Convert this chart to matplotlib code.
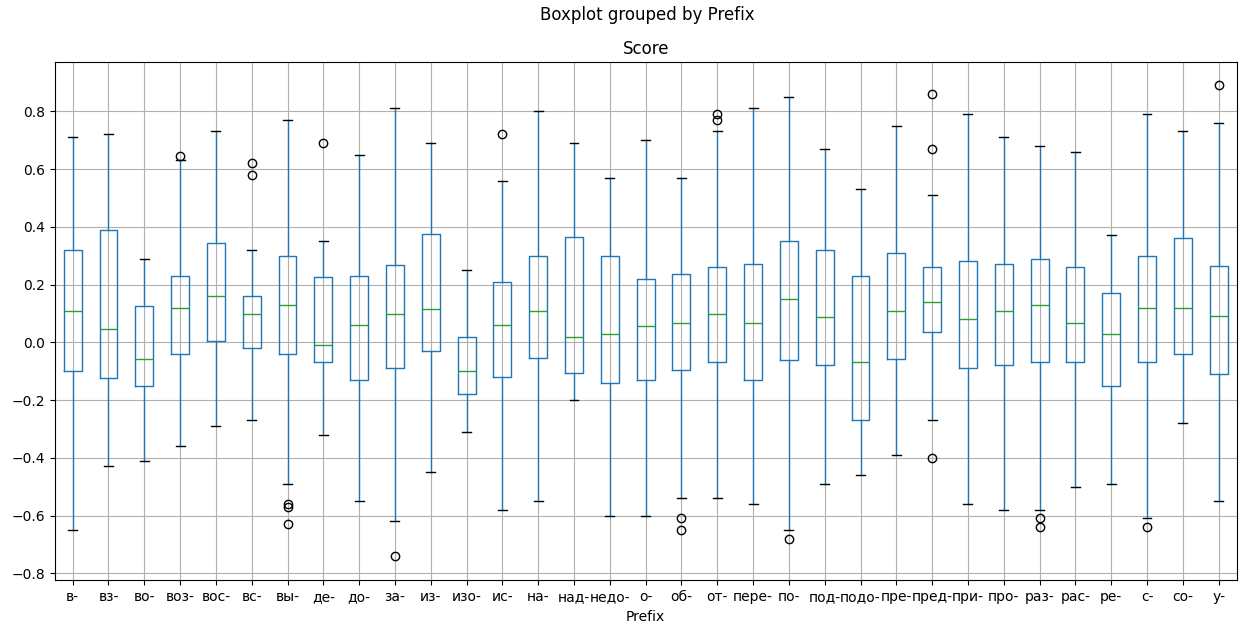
import matplotlib.pyplot as plt

prefixes = ['в-', 'вз-', 'во-', 'воз-', 'вос-', 'вс-', 'вы-', 'де-', 'до-', 'за-',
            'из-', 'изо-', 'ис-', 'на-', 'над-', 'недо-', 'о-', 'об-', 'от-', 'пере-',
            'по-', 'под-', 'подо-', 'пре-', 'пред-', 'при-', 'про-', 'раз-', 'рас-', 'ре-',
            'с-', 'со-', 'у-']
whislo = [-0.65, -0.43, -0.41, -0.36, -0.29, -0.27, -0.49, -0.32, -0.55, -0.62,
          -0.45, -0.31, -0.58, -0.55, -0.20, -0.60, -0.60, -0.54, -0.54, -0.56,
          -0.65, -0.49, -0.46, -0.39, -0.27, -0.56, -0.58, -0.58, -0.50, -0.49,
          -0.61, -0.28, -0.55]
q1 = [-0.10, -0.125, -0.15, -0.04, 0.003, -0.02, -0.04, -0.067, -0.13, -0.09,
      -0.03, -0.18, -0.12, -0.055, -0.105, -0.14, -0.13, -0.095, -0.067, -0.13,
      -0.06, -0.077, -0.27, -0.057, 0.037, -0.09, -0.08, -0.067, -0.067, -0.15,
      -0.067, -0.04, -0.11]
med = [0.11, 0.045, -0.057, 0.12, 0.16, 0.097, 0.13, -0.01, 0.06, 0.097,
       0.115, -0.10, 0.06, 0.11, 0.02, 0.03, 0.055, 0.068, 0.097, 0.068,
       0.15, 0.088, -0.067, 0.11, 0.14, 0.08, 0.11, 0.13, 0.068, 0.03,
       0.12, 0.12, 0.09]
q3 = [0.32, 0.39, 0.125, 0.23, 0.345, 0.16, 0.30, 0.225, 0.23, 0.268,
      0.375, 0.02, 0.21, 0.30, 0.365, 0.30, 0.22, 0.235, 0.26, 0.27,
      0.35, 0.32, 0.23, 0.31, 0.26, 0.28, 0.27, 0.29, 0.26, 0.17,
      0.30, 0.36, 0.265]
whishi = [0.71, 0.72, 0.29, 0.63, 0.73, 0.32, 0.77, 0.35, 0.65, 0.81,
          0.69, 0.25, 0.56, 0.80, 0.69, 0.57, 0.70, 0.57, 0.73, 0.81,
          0.85, 0.67, 0.53, 0.75, 0.51, 0.79, 0.71, 0.68, 0.66, 0.37,
          0.79, 0.73, 0.76]
fliers = [[], [], [], [0.645], [], [0.58, 0.62], [-0.56, -0.57, -0.63], [0.69], [], [-0.74],
          [], [], [0.72], [], [], [], [], [-0.61, -0.65], [0.77, 0.79], [],
          [-0.68], [], [], [], [0.67, 0.86, -0.40], [], [], [-0.61, -0.64], [], [],
          [-0.64], [], [0.89]]

stats = []
for i, p in enumerate(prefixes):
    stats.append({'label': p, 'whislo': whislo[i], 'q1': q1[i], 'med': med[i],
                  'q3': q3[i], 'whishi': whishi[i], 'fliers': fliers[i]})

fig = plt.figure(figsize=(12.44, 6.28), dpi=100)
ax = fig.add_axes([0.044, 0.076, 0.95, 0.825])
ax.bxp(stats,
       boxprops=dict(color='#1f77b4'),
       whiskerprops=dict(color='#1f77b4'),
       medianprops=dict(color='#2ca02c'),
       capprops=dict(color='black'),
       flierprops=dict(marker='o', markerfacecolor='none', markeredgecolor='black'))
ax.grid(True)
ax.set_ylim(-0.824, 0.97)
ax.set_title('Score')
ax.set_xlabel('Prefix')
fig.suptitle('Boxplot grouped by Prefix', x=0.52, y=0.99)

fig.savefig('out.png')
